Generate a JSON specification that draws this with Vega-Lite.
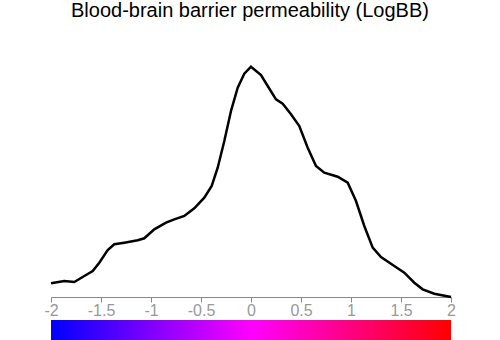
{
  "$schema": "https://vega.github.io/schema/vega-lite/v6.json",
  "autosize": {"type": "pad"},
  "padding": {"left": 43, "top": 1, "right": 42, "bottom": 0},
  "background": "white",
  "spacing": 2,
  "title": {
    "text": "Blood-brain barrier permeability (LogBB)",
    "font": "Liberation Sans",
    "fontSize": 20,
    "fontWeight": "normal",
    "color": "#000000",
    "anchor": "middle",
    "offset": 20
  },
  "config": {"view": {"strokeWidth": 0}},
  "vconcat": [
    {
      "width": 400,
      "height": 256,
      "data": {
        "values": [
          {"logbb": -2.0, "density": 13.7},
          {"logbb": -1.867, "density": 16},
          {"logbb": -1.767, "density": 15},
          {"logbb": -1.667, "density": 21},
          {"logbb": -1.583, "density": 26},
          {"logbb": -1.517, "density": 34.3},
          {"logbb": -1.433, "density": 47},
          {"logbb": -1.367, "density": 52.7},
          {"logbb": -1.267, "density": 54.3},
          {"logbb": -1.133, "density": 56.7},
          {"logbb": -1.067, "density": 58.7},
          {"logbb": -0.967, "density": 67.7},
          {"logbb": -0.85, "density": 74.3},
          {"logbb": -0.767, "density": 77.7},
          {"logbb": -0.667, "density": 81},
          {"logbb": -0.567, "density": 88.7},
          {"logbb": -0.467, "density": 99.3},
          {"logbb": -0.393, "density": 111},
          {"logbb": -0.333, "density": 129.3},
          {"logbb": -0.267, "density": 156},
          {"logbb": -0.2, "density": 186},
          {"logbb": -0.133, "density": 209.3},
          {"logbb": -0.067, "density": 223.3},
          {"logbb": 0.0, "density": 230.3},
          {"logbb": 0.1, "density": 222},
          {"logbb": 0.167, "density": 211},
          {"logbb": 0.25, "density": 197.7},
          {"logbb": 0.317, "density": 193.3},
          {"logbb": 0.4, "density": 182.7},
          {"logbb": 0.483, "density": 171},
          {"logbb": 0.567, "density": 149.3},
          {"logbb": 0.65, "density": 131},
          {"logbb": 0.733, "density": 124.3},
          {"logbb": 0.867, "density": 120.3},
          {"logbb": 0.967, "density": 114.3},
          {"logbb": 1.05, "density": 96},
          {"logbb": 1.133, "density": 71},
          {"logbb": 1.217, "density": 49.3},
          {"logbb": 1.3, "density": 40},
          {"logbb": 1.433, "density": 31},
          {"logbb": 1.533, "density": 24.3},
          {"logbb": 1.633, "density": 14.3},
          {"logbb": 1.717, "density": 7.7},
          {"logbb": 1.833, "density": 3.3},
          {"logbb": 2.0, "density": 0}
        ]
      },
      "mark": {"type": "line", "color": "#000000", "strokeWidth": 2.5, "interpolate": "linear"},
      "encoding": {
        "x": {
          "field": "logbb",
          "type": "quantitative",
          "scale": {"domain": [-2, 2], "nice": false},
          "axis": {
            "title": null,
            "values": [-2, -1.5, -1, -0.5, 0, 0.5, 1, 1.5, 2],
            "labelExpr": "datum.value + ''",
            "grid": false,
            "domainColor": "#888888",
            "tickColor": "#888888",
            "tickSize": 5,
            "labelColor": "#999999",
            "labelFont": "Liberation Sans",
            "labelFontSize": 16,
            "labelPadding": 0,
            "labelFlush": false
          }
        },
        "y": {
          "field": "density",
          "type": "quantitative",
          "scale": {"domain": [0, 256], "nice": false},
          "axis": null
        }
      }
    },
    {
      "width": 400,
      "height": 20,
      "data": {"values": [{"start": -2, "end": 2}]},
      "mark": {
        "type": "rect",
        "color": {
          "gradient": "linear",
          "x1": 0, "y1": 0, "x2": 1, "y2": 0,
          "stops": [
            {"offset": 0, "color": "#0000ff"},
            {"offset": 0.5, "color": "#ff00ff"},
            {"offset": 1, "color": "#ff0000"}
          ]
        }
      },
      "encoding": {
        "x": {
          "field": "start",
          "type": "quantitative",
          "scale": {"domain": [-2, 2], "nice": false},
          "axis": null
        },
        "x2": {"field": "end"}
      }
    }
  ]
}
